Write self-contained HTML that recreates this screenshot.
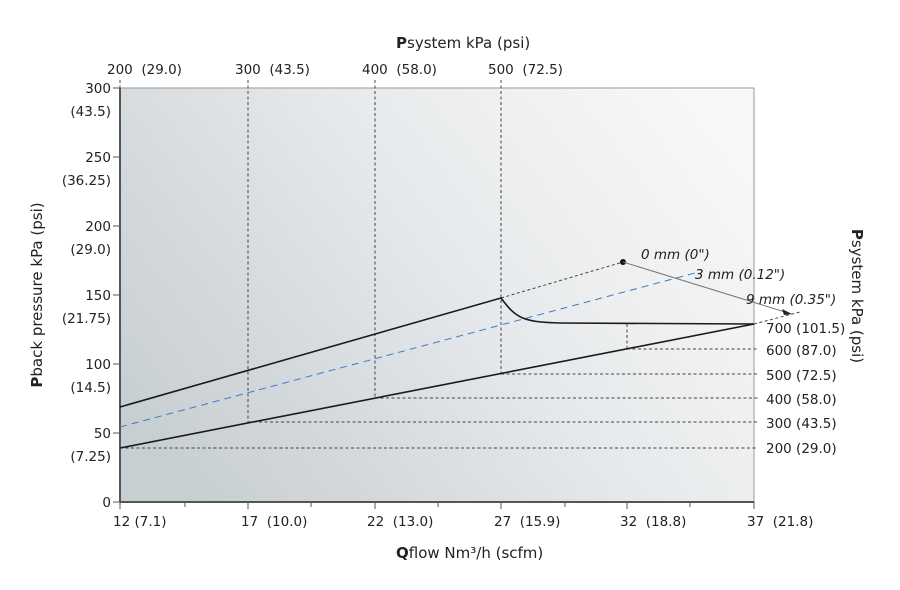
<!DOCTYPE html>
<html><head><meta charset="utf-8"><style>
body{margin:0;background:#fff}
svg{display:block;font-family:"DejaVu Sans","Liberation Sans",sans-serif;font-size:13.5px;fill:#222}
text{white-space:pre}
</style></head><body>
<svg width="900" height="590" viewBox="0 0 900 590">
<defs>
<linearGradient id="bg" x1="0" y1="0.75" x2="1" y2="0.25">
<stop offset="0" stop-color="#c8cfd3"/>
<stop offset="0.2" stop-color="#d2d7db"/>
<stop offset="0.55" stop-color="#e6e9eb"/>
<stop offset="1" stop-color="#f7f7f8"/>
</linearGradient>
</defs>
<rect x="120" y="88" width="634" height="414" fill="url(#bg)"/>
<rect x="120" y="88" width="634" height="414" fill="none" stroke="#999" stroke-width="1"/>
<line x1="120" y1="88" x2="120" y2="502" stroke="#555" stroke-width="2"/>
<line x1="120" y1="502" x2="754" y2="502" stroke="#555" stroke-width="2"/>
<g stroke="#555" stroke-width="1">
<line x1="113" y1="88" x2="120" y2="88"/><line x1="113" y1="157" x2="120" y2="157"/>
<line x1="113" y1="226" x2="120" y2="226"/><line x1="113" y1="295" x2="120" y2="295"/>
<line x1="113" y1="364" x2="120" y2="364"/><line x1="113" y1="433" x2="120" y2="433"/>
<line x1="113" y1="502" x2="120" y2="502"/>
<line x1="120" y1="502" x2="120" y2="509"/><line x1="185" y1="502" x2="185" y2="507"/>
<line x1="248" y1="502" x2="248" y2="509"/><line x1="311" y1="502" x2="311" y2="507"/>
<line x1="375" y1="502" x2="375" y2="509"/><line x1="438" y1="502" x2="438" y2="507"/>
<line x1="501" y1="502" x2="501" y2="509"/><line x1="565" y1="502" x2="565" y2="507"/>
<line x1="627" y1="502" x2="627" y2="509"/><line x1="690" y1="502" x2="690" y2="507"/>
<line x1="754" y1="502" x2="754" y2="509"/>
</g>
<g stroke="#444" stroke-width="1" stroke-dasharray="3,2.5" fill="none">
<line x1="120" y1="448" x2="758" y2="448"/>
<line x1="248" y1="422" x2="758" y2="422"/>
<line x1="375" y1="398" x2="758" y2="398"/>
<line x1="501" y1="374" x2="758" y2="374"/>
<line x1="627" y1="349" x2="758" y2="349"/>
<line x1="120" y1="80" x2="120" y2="88"/>
<line x1="248" y1="80" x2="248" y2="422"/>
<line x1="375" y1="80" x2="375" y2="398"/>
<line x1="501" y1="80" x2="501" y2="374"/>
<line x1="627" y1="324" x2="627" y2="349"/>
<line x1="501" y1="298" x2="623" y2="262"/>
<line x1="754" y1="324" x2="800" y2="312"/>
</g>
<line x1="120" y1="427" x2="695" y2="273" stroke="#3a7cc8" stroke-width="1" stroke-dasharray="7,5"/>
<g stroke="#1a1a1a" stroke-width="1.6" fill="none">
<line x1="120" y1="448" x2="754" y2="324"/>
<path d="M120 407 L501 298 C516 318 522 322 560 323 L754 324"/>
</g>
<circle cx="623" cy="262" r="3" fill="#111"/>
<line x1="623" y1="262" x2="785" y2="312" stroke="#777" stroke-width="1"/>
<path d="M792 314 L782 309 L784 315 Z" fill="#222"/>
<g font-style="italic" font-size="13.5">
<text x="641" y="259">0 mm (0")</text>
<text x="695" y="279">3 mm (0.12")</text>
<text x="746" y="304">9 mm (0.35")</text>
</g>
<g text-anchor="end">
<text x="111" y="93">300</text><text x="111" y="116">(43.5)</text>
<text x="111" y="162">250</text><text x="111" y="185">(36.25)</text>
<text x="111" y="231">200</text><text x="111" y="254">(29.0)</text>
<text x="111" y="300">150</text><text x="111" y="323">(21.75)</text>
<text x="111" y="369">100</text><text x="111" y="392">(14.5)</text>
<text x="111" y="438">50</text><text x="111" y="461">(7.25)</text>
<text x="111" y="507">0</text>
</g>
<text x="107" y="74">200  (29.0)</text>
<text x="235" y="74">300  (43.5)</text>
<text x="362" y="74">400  (58.0)</text>
<text x="488" y="74">500  (72.5)</text>
<text x="396" y="48" font-size="15"><tspan font-weight="bold">P</tspan>system kPa (psi)</text>
<text x="113" y="526">12 (7.1)</text>
<text x="241" y="526">17  (10.0)</text>
<text x="367" y="526">22  (13.0)</text>
<text x="494" y="526">27  (15.9)</text>
<text x="620" y="526">32  (18.8)</text>
<text x="747" y="526">37  (21.8)</text>
<text x="396" y="558" font-size="15"><tspan font-weight="bold">Q</tspan>flow Nm³/h (scfm)</text>
<g>
<text x="766" y="333">700 (101.5)</text>
<text x="766" y="355">600 (87.0)</text>
<text x="766" y="380">500 (72.5)</text>
<text x="766" y="404">400 (58.0)</text>
<text x="766" y="428">300 (43.5)</text>
<text x="766" y="453">200 (29.0)</text>
</g>
<text transform="translate(42,295) rotate(-90)" text-anchor="middle" font-size="15"><tspan font-weight="bold">P</tspan>back pressure kPa (psi)</text>
<text transform="translate(852,296) rotate(90)" text-anchor="middle" font-size="15"><tspan font-weight="bold">P</tspan>system kPa (psi)</text>
</svg>
</body></html>
